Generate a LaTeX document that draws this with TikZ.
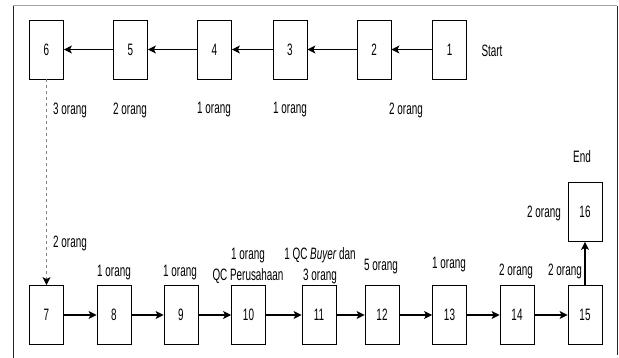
\documentclass[tikz,border=0pt]{standalone}
\usepackage{fontspec}
\setmainfont{Liberation Sans}[FakeStretch=0.6]
\usetikzlibrary{arrows.meta}
\begin{document}
\begin{tikzpicture}[x=1pt,y=-1pt,
  every node/.style={font=\fontsize{16.5}{21}\selectfont},
  box/.style={draw, line width=0.8pt, minimum width=34pt, minimum height=59pt, inner sep=0pt},
  lbl/.style={inner sep=0pt, align=center},
  flow/.style={line width=1.2pt, -{Stealth[length=8pt,width=8pt,inset=2pt]}}]
\useasboundingbox (0,0) rectangle (619,358);
% frame
\draw[gray!70, line width=1pt] (13,6) -- (617,6);
\draw[black!85, line width=1pt] (13,6) -- (13,358);
\draw[black!85, line width=1pt] (617,6) -- (617,355);
% upper row (right to left)
\node[box] (n1) at (449.5,49.5) {1};
\node[box] (n2) at (374,49.5) {2};
\node[box] (n3) at (290,49.5) {3};
\node[box] (n4) at (214.5,49.5) {4};
\node[box] (n5) at (130.5,49.5) {5};
\node[box] (n6) at (46.5,49.5) {6};
% lower row (left to right)
\node[box] (n7) at (46.5,315) {7};
\node[box] (n8) at (114,315) {8};
\node[box] (n9) at (181,315) {9};
\node[box] (n10) at (248.5,315) {10};
\node[box] (n11) at (319,315) {11};
\node[box] (n12) at (382,315) {12};
\node[box] (n13) at (449.5,315) {13};
\node[box] (n14) at (517,315) {14};
\node[box] (n15) at (585,315) {15};
\node[box] (n16) at (585,212) {16};
% connectors
\draw[flow] (n1) -- (n2);
\draw[flow] (n2) -- (n3);
\draw[flow] (n3) -- (n4);
\draw[flow] (n4) -- (n5);
\draw[flow] (n5) -- (n6);
\draw[gray, line width=1pt, dash pattern=on 3pt off 3pt, -{Stealth[length=8pt,width=8pt,inset=2pt,color=black]}] (n6) -- (n7);
\draw[flow] (n7) -- (n8);
\draw[flow] (n8) -- (n9);
\draw[flow] (n9) -- (n10);
\draw[flow] (n10) -- (n11);
\draw[flow] (n11) -- (n12);
\draw[flow] (n12) -- (n13);
\draw[flow] (n13) -- (n14);
\draw[flow] (n14) -- (n15);
\draw[flow] (n15) -- (n16);
% labels
\node[lbl] (start) at (492,51) {Start};
\node[lbl] (end) at (582,157) {End};
\node[lbl] (t6) at (70,110) {3 orang};
\node[lbl] (t5) at (130,110) {2 orang};
\node[lbl] (t4) at (214,110) {1 orang};
\node[lbl] (t3) at (290,110) {1 orang};
\node[lbl] (t1) at (406,110) {2 orang};
\node[lbl] (t7) at (70,243) {2 orang};
\node[lbl] (t8) at (114,273) {1 orang};
\node[lbl] (t9) at (180,273) {1 orang};
\node[lbl] (t10) at (248,265.5) {1 orang\\QC Perusahaan};
\node[lbl] (t11) at (320,265.5) {1 QC \textit{Buyer} dan\\3 orang};
\node[lbl] (t12) at (381,267) {5 orang};
\node[lbl] (t13) at (449,265) {1 orang};
\node[lbl] (t14) at (516,271) {2 orang};
\node[lbl] (t15) at (565,271) {2 orang};
\node[lbl] (t16) at (544,213) {2 orang};
\end{tikzpicture}
\end{document}
